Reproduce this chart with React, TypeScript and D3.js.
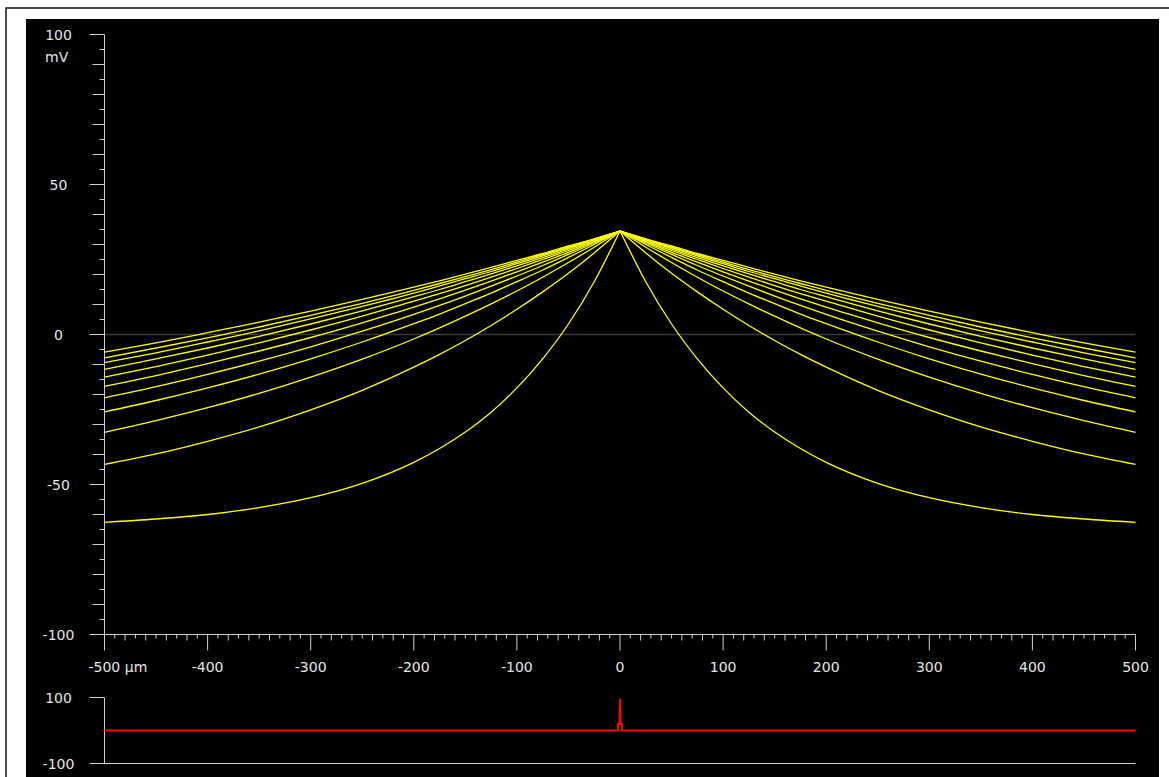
import React, { useEffect, useRef } from "react";
import * as d3 from "d3";

const width = 1169;
const height = 777;

// distance from the stimulus site, µm (profiles are symmetric about 0)
const distances = [0, 25, 50, 75, 100, 125, 150, 175, 200, 250, 300, 350, 400, 450, 500];

// membrane potential, mV (top trace first)
const trace1 = [34.5, 31.9, 29.5, 27.0, 24.7, 22.4, 20.1, 17.9, 15.8, 11.7, 7.8, 4.1, 0.6, -2.8, -5.9];
const trace2 = [34.5, 31.8, 29.1, 26.6, 24.1, 21.6, 19.3, 17.0, 14.7, 10.4, 6.4, 2.5, -1.1, -4.5, -7.8];
const trace3 = [34.5, 31.6, 28.9, 26.2, 23.6, 21.0, 18.6, 16.2, 13.8, 9.4, 5.2, 1.2, -2.5, -6.1, -9.4];
const trace4 = [34.5, 31.5, 28.5, 25.6, 22.9, 20.2, 17.6, 15.0, 12.6, 7.9, 3.5, -0.6, -4.5, -8.1, -11.6];
const trace5 = [34.5, 31.2, 28.0, 25.0, 22.0, 19.1, 16.3, 13.6, 11.1, 6.1, 1.5, -2.8, -6.9, -10.7, -14.2];
const trace6 = [34.5, 30.9, 27.4, 24.1, 20.9, 17.8, 14.8, 11.9, 9.1, 3.9, -1.0, -5.5, -9.7, -13.7, -17.3];
const trace7 = [34.5, 30.5, 26.7, 23.0, 19.5, 16.1, 12.8, 9.7, 6.7, 1.1, -4.1, -8.9, -13.3, -17.4, -21.1];
const trace8 = [34.5, 30.0, 25.7, 21.5, 17.6, 13.8, 10.3, 6.8, 3.6, -2.5, -8.1, -13.2, -17.8, -22.0, -25.8];
const trace9 = [34.5, 29.1, 24.0, 19.1, 14.5, 10.2, 6.1, 2.2, -1.5, -8.2, -14.2, -19.6, -24.4, -28.7, -32.6];
const trace10 = [34.5, 27.2, 20.4, 14.2, 8.4, 3.0, -2.0, -6.6, -10.9, -18.6, -25.1, -30.8, -35.6, -39.8, -43.3];
const trace11 = [34.5, 17.6, 3.5, -8.1, -17.8, -25.9, -32.5, -38.0, -42.6, -49.6, -54.4, -57.7, -60.0, -61.5, -62.6];
const traces = [trace1, trace2, trace3, trace4, trace5, trace6, trace7, trace8, trace9, trace10, trace11];

// stimulus trace in the lower panel
const stimX = [-500, -2, -2, -0.5, 0, 0.5, 2, 2, 500];
const stimY = [0, 0, 20, 20, 97, 20, 20, 0, 0];

const yTickLabels = [100, 50, 0, -50, -100];
const xTickLabels = [-500, -400, -300, -200, -100, 0, 100, 200, 300, 400, 500];
const stimTickLabels = [100, -100];

const axisColor = "#cfcfcf";
const textColor = "#e6e6e6";
const font = "'DejaVu Sans', Verdana, sans-serif";

const App = () => {
  const ref = useRef(null);

  function drawChart() {
    const svg = d3.select(ref.current);
    svg.selectAll("*").remove();

    const x = d3.scaleLinear().domain([-500, 500]).range([104.5, 1135.5]);
    const y = d3.scaleLinear().domain([-100, 100]).range([634.5, 34.5]);
    const yStim = d3.scaleLinear().domain([-100, 100]).range([763.5, 697.5]);

    // window frame + black plot area
    svg.append("rect").attr("width", width).attr("height", height).attr("fill", "#fff");
    svg
      .append("rect")
      .attr("x", 6)
      .attr("y", 8)
      .attr("width", 1200)
      .attr("height", 800)
      .attr("fill", "none")
      .attr("stroke", "#222")
      .attr("stroke-width", 1.6);
    svg.append("rect").attr("x", 26).attr("y", 19).attr("width", 1133).attr("height", 800).attr("fill", "#000");

    // zero line
    svg
      .append("line")
      .attr("x1", x(-500))
      .attr("x2", x(500))
      .attr("y1", y(0))
      .attr("y2", y(0))
      .attr("stroke", "#3a3a3a")
      .attr("stroke-width", 1.5);

    // traces, drawn as two halves so the peak stays sharp
    const line = d3
      .line()
      .x((d) => x(d[0]))
      .y((d) => y(d[1]))
      .curve(d3.curveMonotoneX);

    const g = svg.append("g").attr("fill", "none").attr("stroke", "#ffff00").attr("stroke-width", 1.3);
    traces.forEach((vals) => {
      const right = distances.map((d, i) => [d, vals[i]]);
      const left = distances.map((d, i) => [-d, vals[i]]).reverse();
      g.append("path").attr("d", line(right));
      g.append("path").attr("d", line(left));
    });

    // y axis
    const ax = svg.append("g").attr("stroke", axisColor).attr("stroke-width", 1);
    ax.append("line").attr("x1", x(-500)).attr("x2", x(-500)).attr("y1", y(100)).attr("y2", y(-100));
    ax.selectAll(".yt")
      .data(d3.range(-100, 101, 5))
      .join("line")
      .attr("x1", (d) => x(-500) - (d % 50 === 0 ? 15 : d % 10 === 0 ? 12 : 5))
      .attr("x2", x(-500))
      .attr("y1", (d) => y(d))
      .attr("y2", (d) => y(d));

    // x axis
    ax.append("line").attr("x1", x(-500)).attr("x2", x(500)).attr("y1", y(-100)).attr("y2", y(-100));
    ax.selectAll(".xt")
      .data(d3.range(-500, 501, 10))
      .join("line")
      .attr("x1", (d) => x(d))
      .attr("x2", (d) => x(d))
      .attr("y1", y(-100))
      .attr("y2", (d) => y(-100) + (d % 100 === 0 ? 16 : d % 20 === 0 ? 6 : 4));

    // stimulus panel axes
    ax.append("line").attr("x1", x(-500)).attr("x2", x(-500)).attr("y1", yStim(100)).attr("y2", yStim(-100));
    ax.append("line").attr("x1", x(-500) - 15).attr("x2", x(-500)).attr("y1", yStim(100)).attr("y2", yStim(100));
    ax.append("line").attr("x1", x(-500) - 15).attr("x2", x(500)).attr("y1", yStim(-100)).attr("y2", yStim(-100));

    const stimLine = d3
      .line()
      .x((d) => x(d[0]))
      .y((d) => yStim(d[1]));
    svg
      .append("path")
      .attr("d", stimLine(stimX.map((d, i) => [d, stimY[i]])))
      .attr("fill", "none")
      .attr("stroke", "#ff0000")
      .attr("stroke-width", 2);

    // labels
    const labels = svg
      .append("g")
      .attr("font-family", font)
      .attr("font-size", 14)
      .attr("fill", textColor);

    labels
      .selectAll(".yl")
      .data(yTickLabels)
      .join("text")
      .attr("x", 58.5)
      .attr("y", (d) => y(d) + 5)
      .attr("text-anchor", "middle")
      .text((d) => d);

    labels.append("text").attr("x", 45).attr("y", 62).text("mV");

    labels
      .selectAll(".xl")
      .data(xTickLabels)
      .join("text")
      .attr("x", (d) => x(d))
      .attr("y", 672)
      .attr("text-anchor", (d) => (d === -500 ? "start" : "middle"))
      .attr("dx", (d) => (d === -500 ? -16 : 0))
      .text((d) => (d === -500 ? `${d} µm` : d));

    labels
      .selectAll(".sl")
      .data(stimTickLabels)
      .join("text")
      .attr("x", 58.5)
      .attr("y", (d) => yStim(d) + 5)
      .attr("text-anchor", "middle")
      .text((d) => d);
  }

  useEffect(() => {
    drawChart();
  }, []);

  return (
    <svg
      ref={ref}
      width={width}
      height={height}
      style={{ position: "absolute", left: 0, top: 0, display: "block" }}
    ></svg>
  );
};

export default App;
